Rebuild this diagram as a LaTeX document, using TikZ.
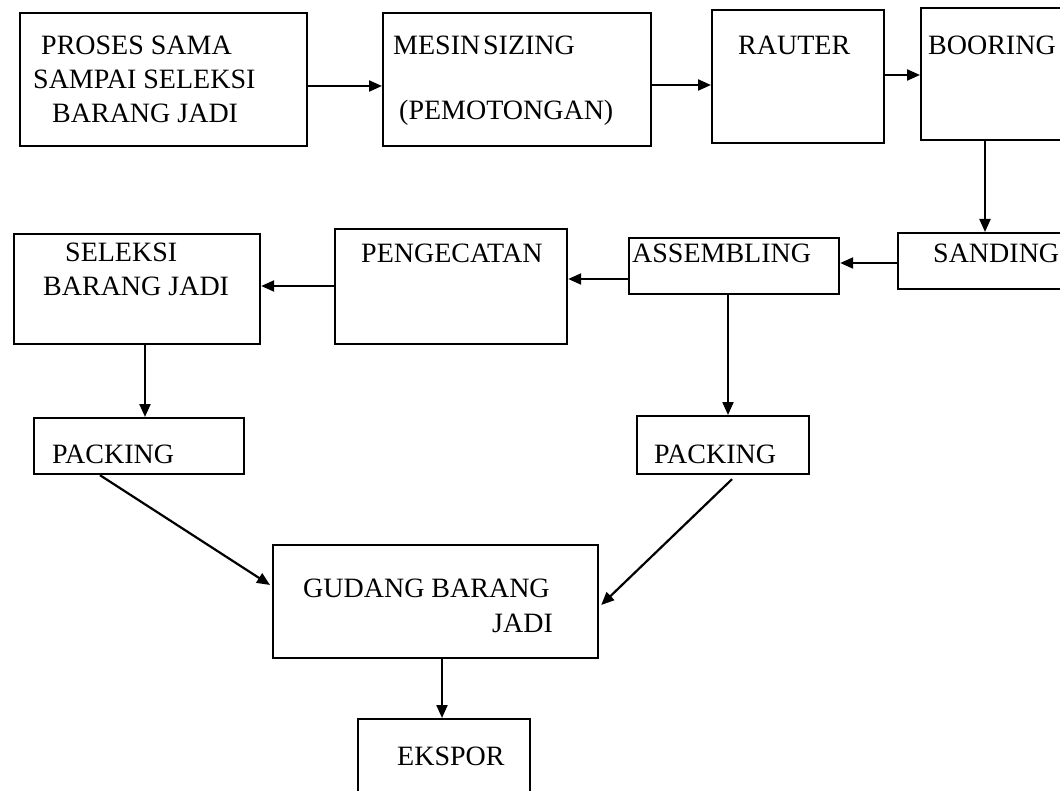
\documentclass[tikz,border=0pt]{standalone}
\usepackage{fontspec}
\setmainfont{Liberation Serif}
\usetikzlibrary{calc,arrows.meta}
\begin{document}
\begin{tikzpicture}[x=1pt,y=-1pt,
  box/.style={draw,line width=2.2pt,anchor=north west,inner sep=0pt},
  lbl/.style={anchor=base west,inner sep=0pt,font=\fontsize{28}{34}\selectfont},
  flow/.style={line width=2.2pt,-{Triangle[length=13pt,width=11pt]}}]
\useasboundingbox (0,0) rectangle (1060,791);
\clip (0,0) rectangle (1060,791);
% process boxes
\node[box,minimum width=287pt,minimum height=133pt] (b1) at (19,12) {};
\node[box,minimum width=268pt,minimum height=133pt] (b2) at (382,12) {};
\node[box,minimum width=172pt,minimum height=133pt] (b3) at (711,9) {};
\node[box,minimum width=170pt,minimum height=132pt] (b4) at (920,7) {};
\node[box,minimum width=193pt,minimum height=56pt] (sand) at (897,232) {};
\node[box,minimum width=210pt,minimum height=56pt] (asm) at (628,237) {};
\node[box,minimum width=232pt,minimum height=115pt] (peng) at (334,228) {};
\node[box,minimum width=246pt,minimum height=110pt] (sel) at (13,233) {};
\node[box,minimum width=210pt,minimum height=56pt] (packL) at (33,417) {};
\node[box,minimum width=172pt,minimum height=58pt] (packR) at (636,415) {};
\node[box,minimum width=325pt,minimum height=113pt] (gud) at (272,544) {};
\node[box,minimum width=172pt,minimum height=92pt] (eks) at (357,718) {};
% labels
\node[lbl] (t1a) at (41,55) {PROSES SAMA};
\node[lbl] (t1b) at (33,89) {SAMPAI SELEKSI};
\node[lbl] (t1c) at (52,123) {BARANG JADI};
\node[lbl] (t2a) at (393,55) {MESIN\hspace{0.1em}SIZING};
\node[lbl] (t2b) at (399,120) {(PEMOTONGAN)};
\node[lbl] (t3) at (738,55) {RAUTER};
\node[lbl] (t4) at (928,55) {BOORING};
\node[lbl] (t5) at (933,263) {SANDING};
\node[lbl] (t6) at (632,263) {ASSEMBLING};
\node[lbl] (t7) at (361,263) {PENGECATAN};
\node[lbl] (t8a) at (65,262) {SELEKSI};
\node[lbl] (t8b) at (43,296) {BARANG JADI};
\node[lbl] (t9) at (52,463) {PACKING};
\node[lbl] (t10) at (654,463) {PACKING};
\node[lbl] (t11a) at (303,597) {GUDANG BARANG};
\node[lbl] (t11b) at (492,632) {JADI};
\node[lbl] (t12) at (397,765) {EKSPOR};
% connectors
\draw[flow] ($(b1.north east)+(0,74)$) -- ($(b2.north west)+(0,74)$);
\draw[flow] ($(b2.north east)+(0,73)$) -- ($(b3.north west)+(0,76)$);
\draw[flow] ($(b3.north east)+(0,66)$) -- ($(b4.north west)+(0,68)$);
\draw[flow] ($(b4.south west)+(65,0)$) -- ($(sand.north west)+(88,0)$);
\draw[flow] ($(sand.north west)+(0,31)$) -- ($(asm.north east)+(0,26)$);
\draw[flow] ($(asm.north west)+(0,42)$) -- ($(peng.north east)+(0,51)$);
\draw[flow] ($(peng.north west)+(0,58)$) -- ($(sel.north east)+(0,53)$);
\draw[flow] ($(sel.south west)+(132,0)$) -- ($(packL.north west)+(112,0)$);
\draw[flow] ($(asm.south west)+(100,0)$) -- ($(packR.north west)+(92,0)$);
\draw[flow] ($(packL.south west)+(67,0)$) -- ($(gud.north west)+(-2,41)$);
\draw[flow] ($(packR.south west)+(96,4)$) -- ($(gud.north east)+(2,61)$);
\draw[flow] ($(gud.south west)+(170,0)$) -- ($(eks.north west)+(85,0)$);
\end{tikzpicture}
\end{document}
